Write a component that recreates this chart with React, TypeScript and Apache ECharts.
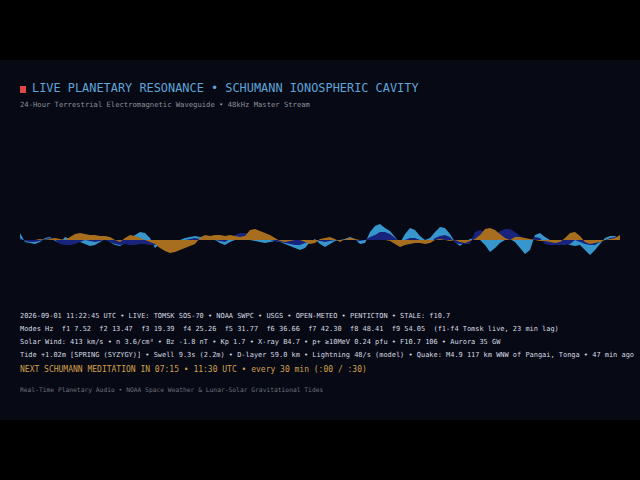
import React, { useEffect, useRef } from "react";
import * as echarts from "echarts";

// sample positions (px along the stream, 5px apart)
const samples: number[] = Array.from({ length: 121 }, (_, i) => i);

const blueWave = [
  7, -2, -3, -4, -2, 2, 3, -1, -3, 3, 1, -1, -2, -4, -6, -5, -2, 1, -2, -5,
  -6, -3, 2, 5, 8, 7, 2, -8, -4, -2, -3, -2, 0, 2, 3, 4, 3, 4, 3, 0,
  -3, -5, -2, 0, 1, 1, 0, -1, -2, -3, -2, -1, -2, -4, -6, -8, -10, -8, -2, 1,
  -4, -7, -4, -1, 0, 1, 3, 1, -4, -3, 8, 14, 16, 12, 9, 3, -3, 6, 12, 10,
  4, 0, 2, 8, 13, 12, 6, -2, -6, -2, 1, 2, 0, -5, -12, -8, -3, 0, 1, -2,
  -8, -14, -10, 5, 7, 3, 0, -2, -1, -3, -5, -6, -5, -10, -15, -10, -4, 2, 4, 4,
  0,
];

const navyWave = [
  2, -1, -2, -2, -1, 1, 2, 0, -4, -5, -5, -4, -2, 0, -1, -2, -1, 0, -2, -4,
  -5, -4, -5, -5, -4, -4, -5, -5, -5, -4, -4, -3, -2, 0, 1, 2, 1, 2, 1, 0,
  -1, -2, 1, 5, 7, 7, 5, 3, 2, 1, 0, -1, -2, -3, -4, -5, -5, -3, -1, 0,
  -1, -2, -1, 0, -1, 0, 1, 0, -1, 0, 3, 5, 8, 8, 6, 2, -2, 0, 2, 2,
  0, -2, -3, 2, 4, 5, 3, -3, -4, -4, -4, 8, 10, 8, 4, 4, 9, 11, 11, 8,
  4, 1, 0, 3, 2, -4, -5, -5, -5, -5, -4, 0, -2, -4, -5, -5, -2, 0, 2, 3,
  1,
];

const orangeWave = [
  0, 0, 0, 0, 1, 0, 1, 2, 1, 0, 3, 6, 7, 6, 5, 5, 4, 4, 3, 0,
  -2, 2, 5, 4, 2, 0, -2, -4, -8, -11, -13, -12, -10, -8, -6, -4, 2, 5, 4, 5,
  5, 4, 5, 4, 3, 4, 10, 11, 9, 7, 5, 2, -1, -2, -1, 0, 0, -2, -4, -3,
  1, 2, 3, 1, -2, 1, 2, 1, 0, 0, 0, 0, 0, 0, -1, -4, -7, -5, -4, -3,
  -3, -4, -3, 0, 1, 0, -1, 0, -2, -3, -1, 1, 5, 11, 12, 10, 6, 2, 0, 3,
  3, 2, 1, 0, -1, -1, -2, -3, -2, 2, 7, 8, 4, -2, -4, -3, -2, 0, 1, 2,
  5,
];

const titleText = "LIVE PLANETARY RESONANCE • SCHUMANN IONOSPHERIC CAVITY";
const subtitleText = "24-Hour Terrestrial Electromagnetic Waveguide • 48kHz Master Stream";
const statusLines = [
  "2026-09-01 11:22:45 UTC • LIVE: TOMSK SOS-70 • NOAA SWPC • USGS • OPEN-METEO • PENTICTON • STALE: f10.7",
  "Modes Hz  f1 7.52  f2 13.47  f3 19.39  f4 25.26  f5 31.77  f6 36.66  f7 42.30  f8 48.41  f9 54.05  (f1-f4 Tomsk live, 23 min lag)",
  "Solar Wind: 413 km/s • n 3.6/cm³ • Bz -1.8 nT • Kp 1.7 • X-ray B4.7 • p+ ≥10MeV 0.24 pfu • F10.7 106 • Aurora 35 GW",
  "Tide +1.02m [SPRING (SYZYGY)] • Swell 9.3s (2.2m) • D-layer 59.0 km • Lightning 48/s (model) • Quake: M4.9 117 km WNW of Pangai, Tonga • 47 min ago",
];
const nextText = "NEXT SCHUMANN MEDITATION IN 07:15 • 11:30 UTC • every 30 min (:00 / :30)";
const footerText = "Real-Time Planetary Audio • NOAA Space Weather & Lunar-Solar Gravitational Tides";

const MONO = "'DejaVu Sans Mono', monospace";

export default function App() {
  const ref = useRef<HTMLDivElement>(null);
  useEffect(() => {
    if (!ref.current) return;
    const chart = echarts.init(ref.current, undefined, { renderer: "svg" });
    const areaSeries = (name: string, data: number[], color: string, z: number) => ({
      name,
      type: "line",
      data,
      symbol: "none",
      smooth: false,
      z,
      lineStyle: { width: 0, color },
      areaStyle: { color, opacity: 1, origin: 0 },
    });
    const lineY = [316, 329, 342, 355];
    chart.setOption({
      animation: false,
      backgroundColor: "#000000",
      grid: { left: 20, right: 20, top: 220, height: 40 },
      xAxis: { type: "category", data: samples, boundaryGap: false, show: false },
      yAxis: { type: "value", min: -20, max: 20, show: false },
      series: [
        areaSeries("Blue", blueWave, "#3796cc", 3),
        areaSeries("Navy", navyWave, "#18247c", 4),
        areaSeries("Orange", orangeWave, "#a66e1e", 5),
      ],
      graphic: [
        { type: "rect", z: -10, shape: { x: 0, y: 60, width: 640, height: 360 }, style: { fill: "#070914" }, silent: true },
        { type: "rect", shape: { x: 20, y: 86, width: 6, height: 7 }, style: { fill: "#e04848" } },
        { type: "text", x: 32, y: 88, style: { text: titleText, fill: "#5fa5d8", font: `11.9px ${MONO}`, textVerticalAlign: "middle" } },
        { type: "text", x: 20, y: 104, style: { text: subtitleText, fill: "#8c909a", font: `7.2px ${MONO}`, textVerticalAlign: "middle" } },
        ...statusLines.map((t, i) => ({
          type: "text", x: 20, y: lineY[i],
          style: { text: t, fill: "#d6dae2", font: `6.95px ${MONO}`, textVerticalAlign: "middle" },
        })),
        { type: "text", x: 20, y: 369, style: { text: nextText, fill: "#d4a04c", font: `8px ${MONO}`, textVerticalAlign: "middle" } },
        { type: "text", x: 20, y: 389, style: { text: footerText, fill: "#6c707c", font: `6.3px ${MONO}`, textVerticalAlign: "middle" } },
      ],
    });
    return () => chart.dispose();
  }, []);
  return <div ref={ref} style={{ position: "fixed", left: 0, top: 0, width: 640, height: 480 }} />;
}
